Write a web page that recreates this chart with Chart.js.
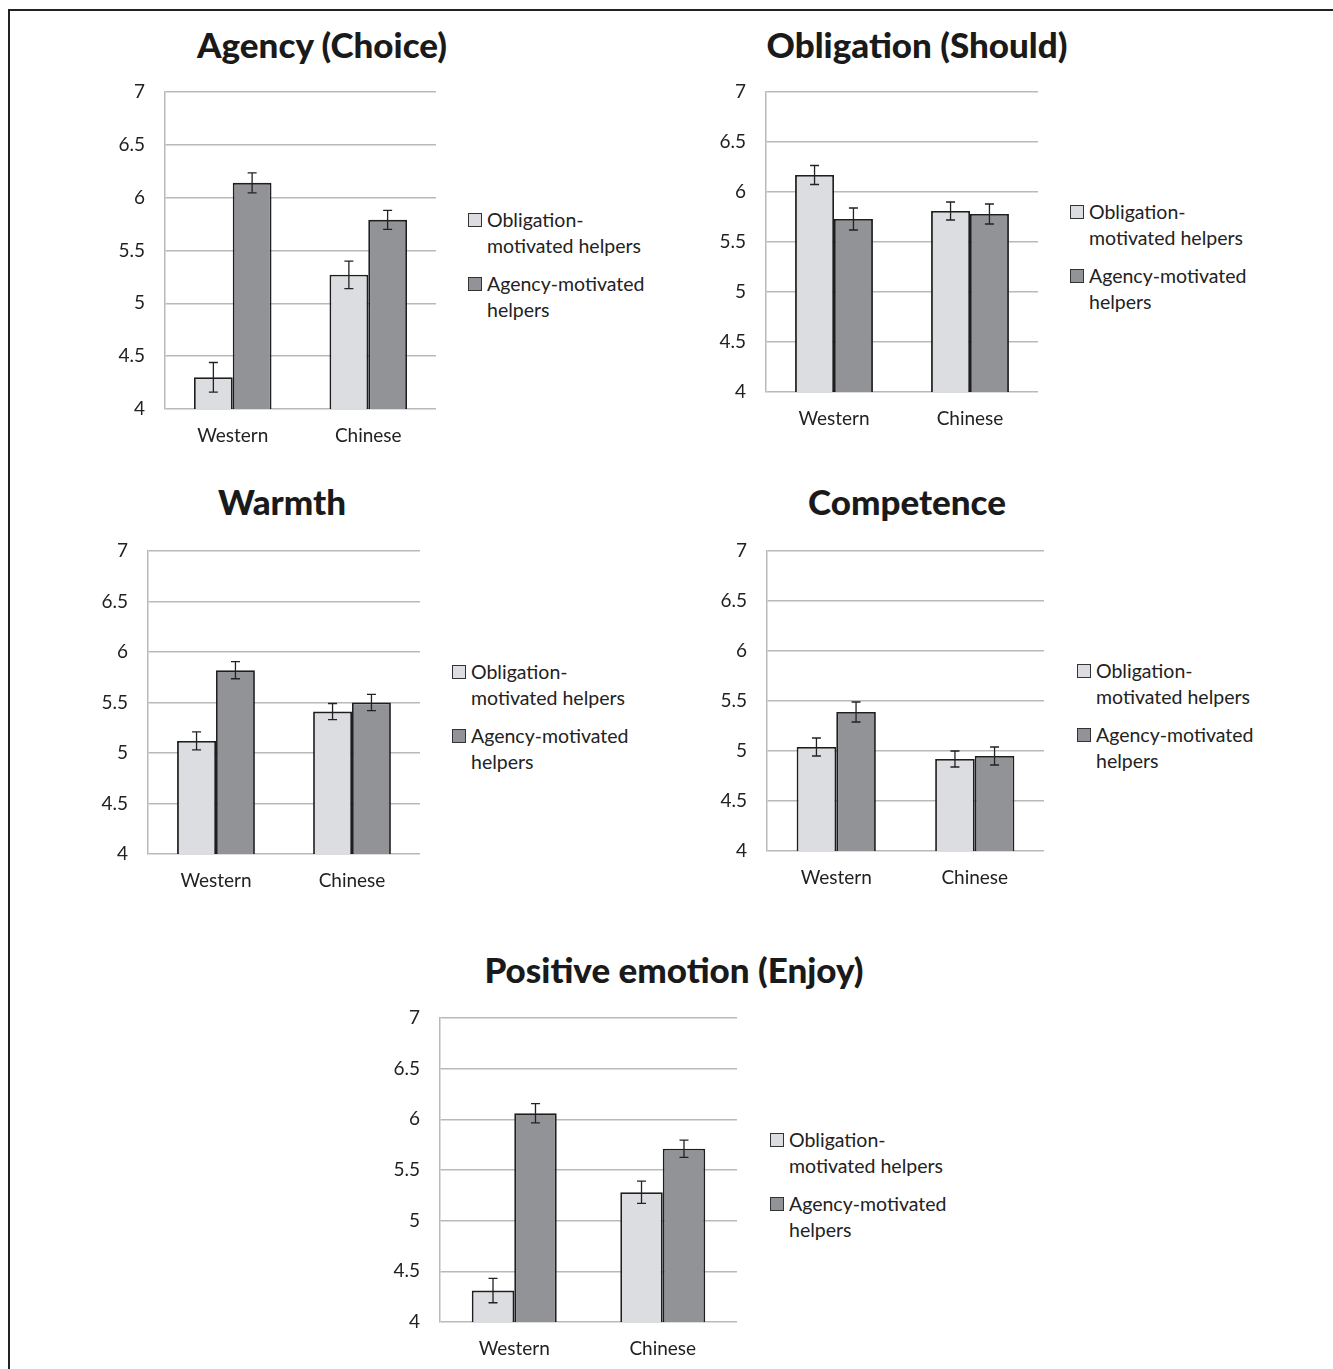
<!DOCTYPE html>
<html>
<head>
<meta charset="utf-8">
<script src="https://cdn.jsdelivr.net/npm/chart.js@4.4.1/dist/chart.umd.min.js"></script>
<style>
  body { margin: 0; background: #fff; }
  #page { position: relative; width: 1333px; height: 1369px; overflow: hidden; font-family: Lato, sans-serif; color: #222; }
  #frame { position: absolute; left: 8px; top: 9px; right: -10px; bottom: -10px; border-top: 2px solid #222; border-left: 2px solid #222; }
  .title { position: absolute; font-weight: 900; font-size: 35px; transform: translate(-50%, -50%); white-space: nowrap; color: #1a1a1a; }
  canvas { position: absolute; }
  .leg { position: absolute; font-size: 19.5px; line-height: 26px; }
  .leg .item { position: relative; padding-left: 18px; margin-bottom: 12px; white-space: nowrap; }
  .leg .box { position: absolute; left: -1px; top: 6px; width: 12px; height: 12px; border: 1.5px solid #333; }
</style>
</head>
<body>
<div id="page"><div id="frame"></div></div>
<script>
// categories and series
const groups = ['Western', 'Chinese'];
const seriesNames = ['Obligation-motivated helpers', 'Agency-motivated helpers'];
const legendLines = [['Obligation-', 'motivated helpers'], ['Agency-motivated', 'helpers']];
const yTicks = [4, 4.5, 5, 5.5, 6, 6.5, 7];

const titles = ['Agency (Choice)', 'Obligation (Should)', 'Warmth', 'Competence', 'Positive emotion (Enjoy)'];

// means (Western, Chinese) and error bar half-widths
const agencyObl = [4.30, 5.27];      const agencyOblErr = [0.14, 0.13];
const agencyAg = [6.14, 5.79];       const agencyAgErr = [0.095, 0.09];
const obligationObl = [6.17, 5.81];  const obligationOblErr = [0.095, 0.09];
const obligationAg = [5.73, 5.78];   const obligationAgErr = [0.11, 0.10];
const warmthObl = [5.12, 5.41];      const warmthOblErr = [0.09, 0.08];
const warmthAg = [5.82, 5.50];       const warmthAgErr = [0.085, 0.08];
const competenceObl = [5.04, 4.92];  const competenceOblErr = [0.09, 0.08];
const competenceAg = [5.39, 4.95];   const competenceAgErr = [0.10, 0.09];
const enjoyObl = [4.31, 5.28];       const enjoyOblErr = [0.12, 0.11];
const enjoyAg = [6.06, 5.71];        const enjoyAgErr = [0.095, 0.085];

const panels = [
  { obl: agencyObl, oblErr: agencyOblErr, ag: agencyAg, agErr: agencyAgErr },
  { obl: obligationObl, oblErr: obligationOblErr, ag: obligationAg, agErr: obligationAgErr },
  { obl: warmthObl, oblErr: warmthOblErr, ag: warmthAg, agErr: warmthAgErr },
  { obl: competenceObl, oblErr: competenceOblErr, ag: competenceAg, agErr: competenceAgErr },
  { obl: enjoyObl, oblErr: enjoyOblErr, ag: enjoyAg, agErr: enjoyAgErr },
];

// page layout: plot area box, title centre, legend origin
const layout = [
  { l: 165, t: 92,   r: 436,  b: 409,  tx: 322, ty: 44,  lx: 469,  ly: 207 },
  { l: 766, t: 92,   r: 1038, b: 392,  tx: 917, ty: 44,  lx: 1071, ly: 199 },
  { l: 148, t: 551,  r: 420,  b: 854,  tx: 282, ty: 501, lx: 453,  ly: 659 },
  { l: 767, t: 551,  r: 1044, b: 851,  tx: 907, ty: 501, lx: 1078, ly: 658 },
  { l: 440, t: 1018, r: 737,  b: 1322, tx: 674, ty: 969, lx: 771,  ly: 1127 },
];

const fills = ['#dcdde0', '#929397'];
const edge = '#1e1e1e';
const gridColor = '#b9b9b9';
const AXIS_W = 70, PAD_T = 14, PAD_R = 6, AXIS_H = 44;

const errorBars = {
  id: 'errorBars',
  afterDatasetsDraw(chart) {
    const { ctx, scales: { y } } = chart;
    ctx.save();
    ctx.strokeStyle = '#222';
    ctx.lineWidth = 1.3;
    chart.data.datasets.forEach((ds, di) => {
      chart.getDatasetMeta(di).data.forEach((bar, i) => {
        const v = ds.data[i], e = ds.errors[i];
        const top = y.getPixelForValue(v + e), bot = y.getPixelForValue(v - e);
        ctx.beginPath();
        ctx.moveTo(bar.x, top); ctx.lineTo(bar.x, bot);
        ctx.moveTo(bar.x - 4.5, top); ctx.lineTo(bar.x + 4.5, top);
        ctx.moveTo(bar.x - 4.5, bot); ctx.lineTo(bar.x + 4.5, bot);
        ctx.stroke();
      });
    });
    ctx.restore();
  }
};

const page = document.getElementById('page');

panels.forEach((p, k) => {
  const L = layout[k];
  const w = AXIS_W + (L.r - L.l) + PAD_R;
  const h = PAD_T + (L.b - L.t) + AXIS_H;

  const title = document.createElement('div');
  title.className = 'title';
  title.textContent = titles[k];
  title.style.left = L.tx + 'px';
  title.style.top = L.ty + 'px';
  page.appendChild(title);

  const wrap = document.createElement('div');
  wrap.style.cssText = `position:absolute;left:${L.l - AXIS_W}px;top:${L.t - PAD_T}px;width:${w}px;height:${h}px;`;
  const canvas = document.createElement('canvas');
  wrap.appendChild(canvas);
  page.appendChild(wrap);

  const leg = document.createElement('div');
  leg.className = 'leg';
  leg.style.left = L.lx + 'px';
  leg.style.top = L.ly + 'px';
  legendLines.forEach((lines, s) => {
    const item = document.createElement('div');
    item.className = 'item';
    item.innerHTML = `<span class="box" style="background:${fills[s]}"></span>${lines.join('<br>')}`;
    leg.appendChild(item);
  });
  page.appendChild(leg);

  new Chart(canvas, {
    type: 'bar',
    data: {
      labels: groups,
      datasets: [
        { label: seriesNames[0], data: p.obl, errors: p.oblErr, backgroundColor: fills[0], borderColor: edge, borderWidth: 1.8 },
        { label: seriesNames[1], data: p.ag, errors: p.agErr, backgroundColor: fills[1], borderColor: edge, borderWidth: 1.8 },
      ]
    },
    options: {
      responsive: true,
      maintainAspectRatio: false,
      animation: false,
      layout: { padding: { top: PAD_T, right: PAD_R, left: 0, bottom: 0 } },
      datasets: { bar: { barPercentage: 1, categoryPercentage: 0.572 } },
      plugins: { legend: { display: false }, title: { display: false }, tooltip: { enabled: false } },
      scales: {
        x: {
          grid: { display: false, drawTicks: false },
          border: { display: false },
          ticks: { color: '#222', padding: 15, font: { family: 'Lato', size: 19 } },
          afterFit: (s) => { s.height = AXIS_H; s.paddingLeft = 0; s.paddingRight = 0; }
        },
        y: {
          min: 4, max: 7,
          afterBuildTicks: (s) => { s.ticks = yTicks.map(v => ({ value: v })); },
          grid: { color: gridColor, lineWidth: 1.5, drawTicks: false },
          border: { display: true, color: gridColor, width: 1.5 },
          ticks: { color: '#222', padding: 20, font: { family: 'Lato', size: 19 }, callback: (v) => String(v) },
          afterFit: (s) => { s.width = AXIS_W; s.paddingTop = 0; s.paddingBottom = 0; }
        }
      }
    },
    plugins: [errorBars]
  });
});
</script>
</body>
</html>
